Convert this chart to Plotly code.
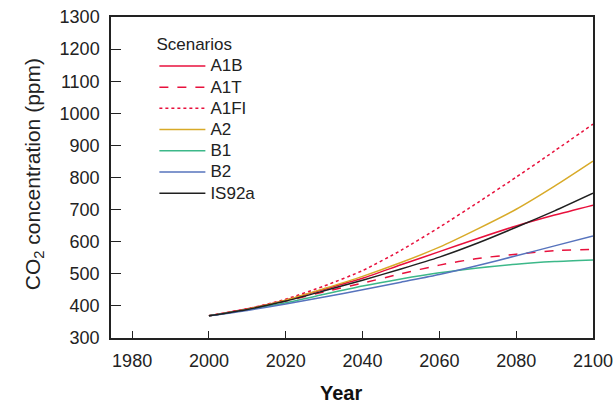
import plotly.graph_objects as go

years = [2000, 2010, 2020, 2030, 2040, 2050, 2060, 2070, 2080, 2090, 2100]
a1b   = [369, 391, 418, 452, 486, 528, 569, 610, 649, 683, 714]
a1t   = [369, 390, 415, 444, 471, 500, 527, 548, 561, 572, 576]
a1fi  = [369, 391, 421, 462, 510, 573, 645, 722, 801, 883, 966]
a2    = [369, 390, 418, 454, 492, 535, 583, 640, 701, 773, 851]
b1    = [369, 388, 410, 436, 462, 484, 503, 518, 530, 538, 543]
b2    = [369, 386, 406, 428, 450, 474, 498, 526, 556, 587, 618]
is92a = [369, 389, 415, 447, 480, 515, 552, 596, 645, 696, 751]

series = [
    ("A1B", a1b, "#e8103c", "solid"),
    ("A1T", a1t, "#e8103c", "dash"),
    ("A1FI", a1fi, "#e8103c", "dot"),
    ("A2", a2, "#d8aa28", "solid"),
    ("B1", b1, "#3cb889", "solid"),
    ("B2", b2, "#5673bd", "solid"),
    ("IS92a", is92a, "#202020", "solid"),
]

x_ticks = [1980, 2000, 2020, 2040, 2060, 2080, 2100]
y_ticks = [300, 400, 500, 600, 700, 800, 900, 1000, 1100, 1200, 1300]

fig = go.Figure()
for name, vals, color, dash in series:
    fig.add_trace(go.Scatter(
        x=years, y=vals, mode="lines",
        name='<span style="font-size:17px">' + name + '</span>',
        line=dict(color=color, width=1.5, dash=dash, shape="spline", smoothing=0.6),
    ))

font = "Liberation Sans, Arial, sans-serif"
fig.update_layout(
    width=614, height=406,
    margin=dict(l=111, r=21, t=17, b=68, autoexpand=False),
    paper_bgcolor="white", plot_bgcolor="white",
    font=dict(family=font, size=17, color="#222"),
    showlegend=True,
    legend=dict(
        x=0.09, y=0.965, xanchor="left", yanchor="top",
        bgcolor="rgba(0,0,0,0)", borderwidth=0,
        title=dict(text="Scenarios", font=dict(size=17)),
        font=dict(size=14), tracegroupgap=0, itemwidth=46,
    ),
)
fig.update_xaxes(
    range=[1974.5, 2100], tickvals=x_ticks, ticks="inside", ticklen=7,
    tickwidth=1.2, tickcolor="#222", showgrid=False, zeroline=False,
    showline=True, linecolor="#222", linewidth=1.5, mirror=True,
    tickfont=dict(size=18), ticklabelstandoff=6, automargin=False,
    ticklabeloverflow="allow",
)
fig.update_yaxes(
    range=[300, 1300], tickvals=y_ticks, ticks="inside", ticklen=10,
    tickwidth=1.2, tickcolor="#222", showgrid=False, zeroline=False,
    showline=True, linecolor="#222", linewidth=1.5, mirror=True,
    tickfont=dict(size=18), ticklabelstandoff=6, automargin=False,
    ticklabeloverflow="allow",
)
fig.add_annotation(
    text="CO<sub>2</sub> concentration (ppm)", textangle=-90,
    xref="paper", yref="paper", x=0, y=0.51, xanchor="center", yanchor="middle",
    xshift=-77, showarrow=False, font=dict(size=21, family=font, color="#222"),
)
fig.add_annotation(
    text="<b>Year</b>", xref="paper", yref="paper", x=0.5, y=0,
    xanchor="center", yanchor="middle", xshift=-11, yshift=-55,
    showarrow=False, font=dict(size=20, family=font, color="#111"),
)
fig.write_html(
    "out.html",
    config={"displayModeBar": False},
    post_script="document.body.style.margin='0';document.body.style.overflow='hidden';",
)
